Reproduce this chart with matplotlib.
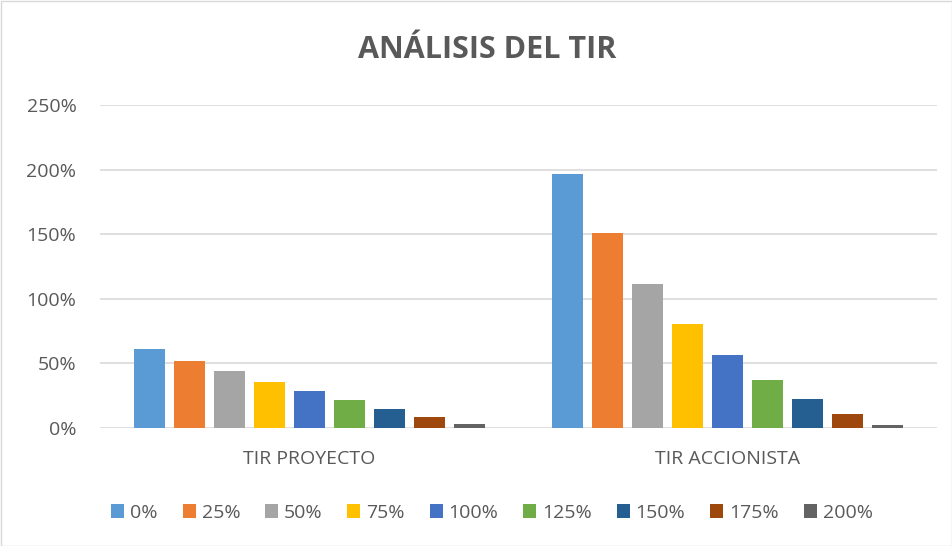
import matplotlib
matplotlib.use("Agg")
import matplotlib.pyplot as plt
import numpy as np
from matplotlib.patches import Rectangle

categories = ["TIR PROYECTO", "TIR ACCIONISTA"]
series = ["0%", "25%", "50%", "75%", "100%", "125%", "150%", "175%", "200%"]
values = {
    "0%":   [61.3, 196.7],
    "25%":  [51.9, 150.9],
    "50%":  [44.0, 111.5],
    "75%":  [35.8, 80.2],
    "100%": [28.8, 56.7],
    "125%": [21.7, 37.5],
    "150%": [14.4, 22.5],
    "175%": [8.6, 11.1],
    "200%": [3.4, 2.6],
}
colors = ["#5B9BD5", "#ED7D31", "#A5A5A5", "#FFC000", "#4472C4",
          "#70AD47", "#255E91", "#9E480E", "#636363"]
yticks = [0, 50, 100, 150, 200, 250]

plt.rcParams['font.family'] = ['Open Sans', 'DejaVu Sans']
txt = "#595959"

fig = plt.figure(figsize=(9.53, 5.46), dpi=100)
ax = fig.add_axes([100/953, 1-428/546, 837/953, (428-105)/546])

x = np.arange(len(categories))
slot = 40/418.5
bw = 31/418.5
n = len(series)
for i, s in enumerate(series):
    off = (i - (n-1)/2) * slot
    ax.bar(x + off, values[s], width=bw, color=colors[i], label=s, zorder=3)

ax.set_xlim(-0.5, 1.5)
ax.set_ylim(0, 250)
ax.set_yticks(yticks)
ax.set_yticklabels([f"{v}%" for v in yticks], color=txt, fontsize=14)
ax.set_xticks(x)
ax.set_xticklabels(categories, color=txt, fontsize=14)
ax.tick_params(axis='both', length=0)
ax.tick_params(axis='y', pad=17)
ax.tick_params(axis='x', pad=16)
ax.grid(axis='y', color="#D9D9D9", linewidth=1.2, zorder=0)
for sp in ax.spines.values():
    sp.set_visible(False)

fig.text(487/953, 1-50/546, "ANÁLISIS DEL TIR", ha='center', va='center',
         fontsize=22, fontweight='bold', color=txt)

leg = fig.legend(loc='center', bbox_to_anchor=(492/953, 1-513/546), ncol=9,
                 frameon=False, fontsize=14, handlelength=0.67, handleheight=0.7,
                 handletextpad=0.3, columnspacing=1.28)
for t in leg.get_texts():
    t.set_color(txt)

fig.patches.append(Rectangle((0.5/953, 0.5/546), 1-1/953, 1-1/546, transform=fig.transFigure,
                             fill=False, edgecolor="#D9D9D9", linewidth=1))

fig.savefig("out.png", dpi=100)
